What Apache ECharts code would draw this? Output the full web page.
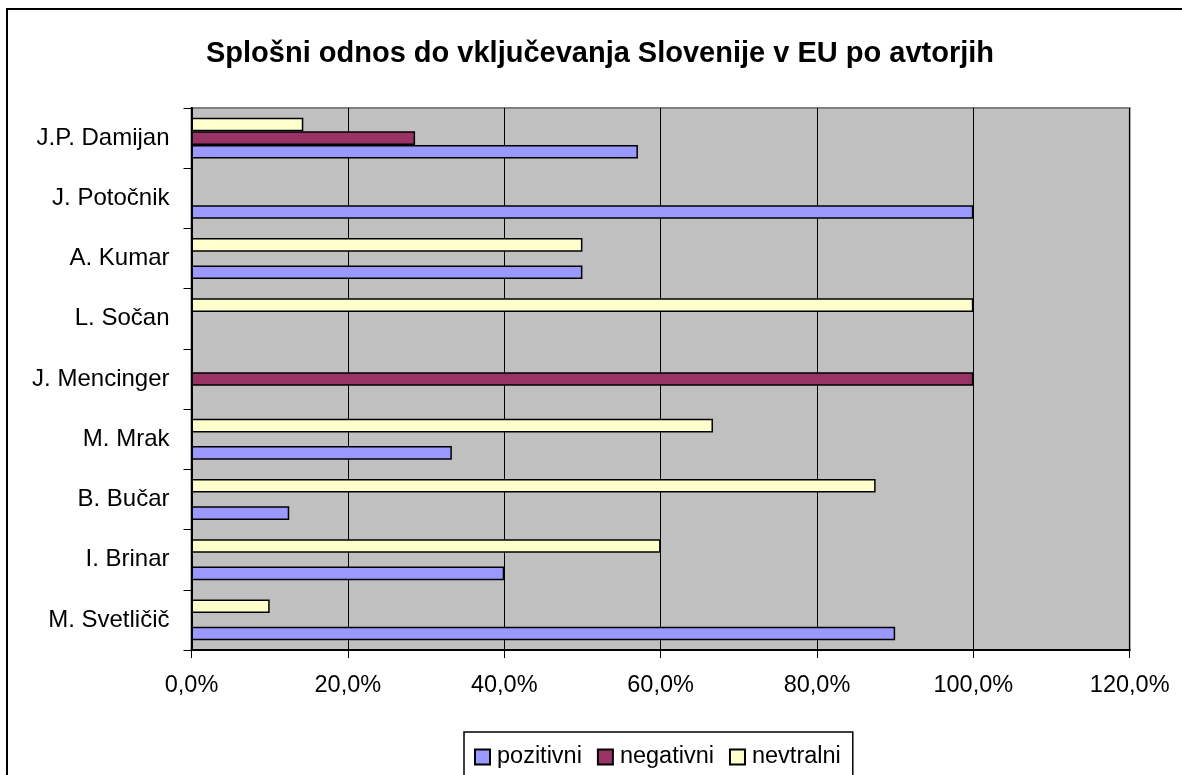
<!DOCTYPE html>
<html>
<head>
<meta charset="utf-8">
<script src="https://cdn.jsdelivr.net/npm/echarts@6/dist/echarts.min.js"></script>
<style>
html,body{margin:0;padding:0;background:#fff;}
#c{width:1182px;height:775px;}
</style>
</head>
<body>
<div id="c"></div>
<script>
const categories = ['M. Svetličič', 'I. Brinar', 'B. Bučar', 'M. Mrak', 'J. Mencinger', 'L. Sočan', 'A. Kumar', 'J. Potočnik', 'J.P. Damijan'];
const pozitivni = [90.0, 40.0, 12.5, 33.3, null, null, 50.0, 100.0, 57.1];
const negativni = [null, null, null, null, 100.0, null, null, null, 28.6];
const nevtralni = [10.0, 60.0, 87.5, 66.7, null, 100.0, 50.0, null, 14.3];
const xTicks = {min: 0, max: 120, interval: 20};
const titleText = 'Splošni odnos do vključevanja Slovenije v EU po avtorjih';
const seriesNames = ['pozitivni', 'negativni', 'nevtralni'];

const FONT = '"Liberation Sans", Arial, sans-serif';
const chart = echarts.init(document.getElementById('c'), null, {renderer: 'canvas'});

function barSeries(name, data, color) {
  return {
    name: name,
    type: 'bar',
    data: data,
    barGap: '0%',
    barCategoryGap: '32%',
    itemStyle: {color: color, borderColor: '#000', borderWidth: 1.5},
    emphasis: {disabled: true}
  };
}

chart.setOption({
  animation: false,
  backgroundColor: '#fff',
  textStyle: {fontFamily: FONT},
  title: {
    text: titleText,
    left: 201,
    top: 34,
    textStyle: {fontFamily: FONT, fontSize: 29, fontWeight: 'bold', color: '#000'}
  },
  graphic: [{
    type: 'rect',
    shape: {x: 7, y: 9, width: 1300, height: 900},
    style: {fill: 'none', stroke: '#000', lineWidth: 2},
    silent: true, z: 100
  }],
  legend: {
    data: seriesNames,
    left: 464,
    top: 732,
    orient: 'horizontal',
    itemWidth: 15,
    itemHeight: 15,
    itemGap: 15,
    icon: 'rect',
    padding: [13, 12, 40, 10],
    borderColor: '#000',
    borderWidth: 1.5,
    backgroundColor: '#fff',
    textStyle: {fontFamily: FONT, fontSize: 23.5, color: '#000', padding: [0, 0, 0, 2]}
  },
  grid: {
    left: 191.5,
    right: 52.3,
    top: 108,
    bottom: 125,
    show: true,
    backgroundColor: '#C0C0C0',
    borderColor: '#808080',
    borderWidth: 2,
    containLabel: false
  },
  xAxis: {
    type: 'value',
    min: xTicks.min,
    max: xTicks.max,
    interval: xTicks.interval,
    axisLine: {show: true, lineStyle: {color: '#000', width: 2}},
    axisTick: {show: true, length: 8, inside: false, lineStyle: {color: '#000', width: 1}},
    splitLine: {show: true, lineStyle: {color: '#000', width: 1}},
    axisLabel: {
      margin: 24,
      fontFamily: FONT,
      fontSize: 23.5,
      color: '#000',
      formatter: v => v.toFixed(1).replace('.', ',') + '%'
    }
  },
  yAxis: {
    type: 'category',
    data: categories,
    axisLine: {show: true, lineStyle: {color: '#000', width: 2}},
    axisTick: {show: true, length: 8, inside: false, alignWithLabel: false, lineStyle: {color: '#000', width: 1}},
    splitLine: {show: false},
    axisLabel: {margin: 22, fontFamily: FONT, fontSize: 24, color: '#000'}
  },
  series: [
    barSeries('nevtralni', nevtralni, '#FFFFCC'),
    barSeries('negativni', negativni, '#993366'),
    barSeries('pozitivni', pozitivni, '#9999FF')
  ]
});
</script>
</body>
</html>
